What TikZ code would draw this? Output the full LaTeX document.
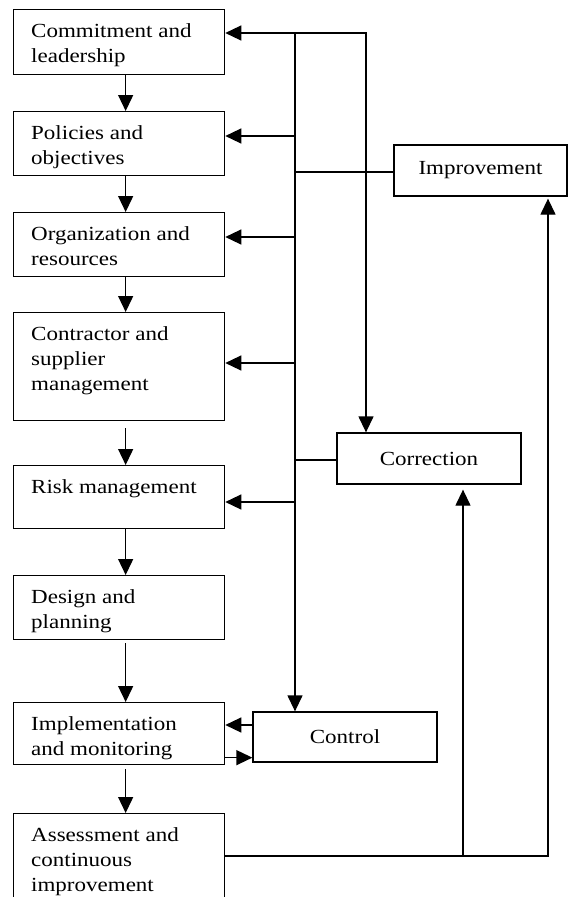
\documentclass[tikz,border=0pt]{standalone}
\usepackage{fontspec}
\setmainfont{Liberation Serif}[FakeStretch=1.15]
\usetikzlibrary{arrows.meta}
\begin{document}
\begin{tikzpicture}[x=1pt,y=-1pt,
  >={Triangle[length=16pt,width=15pt]},
  box/.style={draw, line width=1.3pt, inner sep=0pt, anchor=north west, minimum width=211pt},
  rbox/.style={draw, line width=1.3pt, inner sep=0pt, minimum width=184pt, minimum height=51pt, font=\fontsize{20}{25}\selectfont},
  txt/.style={anchor=north west, align=left, inner sep=0pt, font=\fontsize{20}{25}\selectfont},
  conn/.style={line width=1.3pt},
  arr/.style={conn,->},
]
\useasboundingbox (0,0) rectangle (568,897);
\clip (0,0) rectangle (568,897);

% left column boxes
\node[box, minimum height=65pt] (b1) at (13,9) {};
\node[box, minimum height=64pt] (b2) at (13,111) {};
\node[box, minimum height=64pt] (b3) at (13,212) {};
\node[box, minimum height=108pt] (b4) at (13,312) {};
\node[box, minimum height=63pt] (b5) at (13,465) {};
\node[box, minimum height=64pt] (b6) at (13,575) {};
\node[box, minimum height=62pt] (b7) at (13,702) {};
\node[box, minimum height=120pt] (b8) at (13,813) {};

\node[txt] (t1) at (31,23) {Commitment and\\leadership};
\node[txt] (t2) at (31,125) {Policies and\\objectives};
\node[txt] (t3) at (31,226) {Organization and\\resources};
\node[txt] (t4) at (31,326) {Contractor and\\supplier\\management};
\node[txt] (t5) at (31,479) {Risk management};
\node[txt] (t6) at (31,589) {Design and\\planning};
\node[txt] (t7) at (31,716) {Implementation\\and monitoring};
\node[txt] (t8) at (31,827) {Assessment and\\continuous\\improvement};

% right boxes
\node[rbox, minimum width=173pt] (imp) at (480.5,170.5) {Improvement};
\node[rbox] (corr) at (429,458.5) {Correction};
\node[rbox, minimum height=50pt] (ctrl) at (345,737) {Control};

% vertical chain
\draw[arr] ([xshift=6.5pt]b1.south) -- ([xshift=6.5pt]b2.north);
\draw[arr] ([xshift=6.5pt]b2.south) -- ([xshift=6.5pt]b3.north);
\draw[arr] ([xshift=6.5pt]b3.south) -- ([xshift=6.5pt]b4.north);
\draw[arr, shorten <=7pt] ([xshift=6.5pt]b4.south) -- ([xshift=6.5pt]b5.north);
\draw[arr] ([xshift=6.5pt]b5.south) -- ([xshift=6.5pt]b6.north);
\draw[arr, shorten <=3pt] ([xshift=6.5pt]b6.south) -- ([xshift=6.5pt]b7.north);
\draw[arr, shorten <=4pt] ([xshift=6.5pt]b7.south) -- ([xshift=6.5pt]b8.north);

% feedback bus
\coordinate (tl) at (295,33);
\coordinate (tr) at (366,33);
\draw[conn, <->] (b1.east |- tr) -- (tr) -- (tr |- corr.north);
\draw[arr] (tl) -- (tl |- ctrl.north);

\coordinate (j2) at (295,136);
\coordinate (j3) at (295,237);
\coordinate (j4) at (295,363);
\coordinate (j5) at (295,502);
\coordinate (ji) at (295,172);
\coordinate (jc) at (295,460);
\draw[arr] (j2) -- (b2.east |- j2);
\draw[arr] (j3) -- (b3.east |- j3);
\draw[arr] (j4) -- (b4.east |- j4);
\draw[arr] (j5) -- (b5.east |- j5);
\draw[conn] (ji) -- (imp.west |- ji);
\draw[conn] (jc) -- (corr.west |- jc);

% control loop
\coordinate (cw1) at ([yshift=12pt]ctrl.west);
\coordinate (bw2) at ([yshift=-24pt]b7.east);
\draw[arr] (cw1) -- (cw1 -| b7.east);
\draw[arr] (bw2) -- (bw2 -| ctrl.west);

% assessment feedback
\coordinate (bb) at ([yshift=-43pt]b8.north east);
\coordinate (bx1) at (463,856);
\coordinate (bx2) at (548,856);
\draw[arr, shorten >=2pt] (bb) -- (bx2) -- (bx2 |- imp.south);
\draw[arr, shorten >=5pt] (bx1) -- (bx1 |- corr.south);
\end{tikzpicture}
\end{document}
